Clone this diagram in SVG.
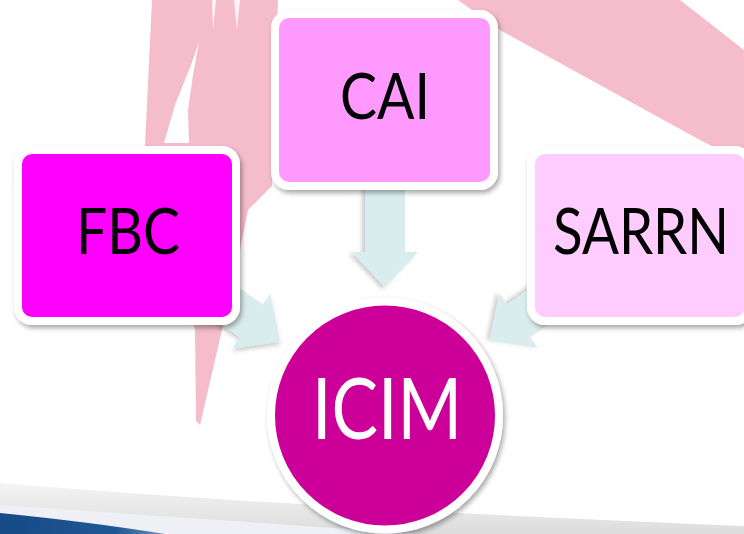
<svg xmlns="http://www.w3.org/2000/svg" width="744" height="534" viewBox="0 0 744 534">
<defs>
<style>
.lbl{font-family:Lato,"Open Sans",sans-serif;fill:#000;text-anchor:middle}
.box{stroke:#fff;stroke-width:8}
.arrow{fill:#D9ECEE}
</style>
<filter id="sh" x="-20%" y="-20%" width="140%" height="140%">
<feDropShadow dx="2" dy="3" stdDeviation="2.5" flood-color="#000" flood-opacity="0.35"/>
</filter>
<filter id="ash" x="-20%" y="-20%" width="140%" height="140%">
<feDropShadow dx="2" dy="3" stdDeviation="2" flood-color="#000" flood-opacity="0.2"/>
</filter>
<linearGradient id="gray" x1="0" y1="0" x2="0" y2="1">
<stop offset="0" stop-color="#f4f4f4"/>
<stop offset="1" stop-color="#dcdcdc"/>
</linearGradient>
<linearGradient id="blue" x1="0" y1="0" x2="1" y2="0">
<stop offset="0" stop-color="#174a86"/>
<stop offset="0.7" stop-color="#1f5795"/>
<stop offset="1" stop-color="#6d8fb8"/>
</linearGradient>
</defs>
<rect width="744" height="534" fill="#fff"/>
<g id="background">
<path d="M152,0 L278,0 L272,186 L248,210 L236,270 L222,330 L200,425 L196,421 L195,330 L145,145 Z" fill="#F5BCCB"/>
<path d="M199,42 L193,75 L188,110 L189,143 L164,143 L175,105 L191,65 Z" fill="#fff"/>
<path d="M212,0 L216,0 L213,30 Z" fill="#fff" opacity="0.8"/>
<path d="M234,0 L240,0 L237,30 Z" fill="#fff" opacity="0.8"/>
<path d="M458,0 L680,0 L744,50 L744,162 L700,140 L600,85 L500,30 Z" fill="#F5BCCB"/>
<path d="M0,483 Q300,508 744,526 L744,534 L0,534 Z" fill="url(#gray)"/>
<path d="M0,505 Q220,520 420,534 L0,534 Z" fill="#eef0f5"/>
<path d="M0,513 Q90,522 165,534 L0,534 Z" fill="url(#blue)"/>
</g>
<g id="connectors">
<polygon class="arrow" filter="url(#ash)" transform="translate(385,287) rotate(90)" points="0,0 -35,33 -35,20 -110,20 -110,-20 -35,-20 -35,-33"/>
<polygon class="arrow" filter="url(#ash)" transform="translate(280,341) rotate(35)" points="0,0 -35,33 -35,20 -110,20 -110,-20 -35,-20 -35,-33"/>
<polygon class="arrow" filter="url(#ash)" transform="translate(490,341) rotate(145)" points="0,0 -35,33 -35,20 -110,20 -110,-20 -35,-20 -35,-33"/>
</g>
<g id="node-fbc">
<rect class="box" filter="url(#sh)" x="18" y="150" width="218" height="171" rx="14" fill="#FF00FF"/>
<text class="lbl" x="128" y="254" font-size="64" textLength="104" lengthAdjust="spacingAndGlyphs">FBC</text>
</g>
<g id="node-cai">
<rect class="box" filter="url(#sh)" x="275" y="14" width="219" height="172" rx="14" fill="#FF99FF"/>
<text class="lbl" x="385" y="119" font-size="64" textLength="90" lengthAdjust="spacingAndGlyphs">CAI</text>
</g>
<g id="node-sarrn">
<rect class="box" filter="url(#sh)" x="531" y="150" width="218" height="171" rx="14" fill="#FFCCFF"/>
<text class="lbl" x="641" y="254" font-size="64" textLength="176" lengthAdjust="spacingAndGlyphs">SARRN</text>
</g>
<g id="node-icim">
<circle class="box" filter="url(#sh)" cx="385" cy="415.5" r="114" fill="#CC0099"/>
<text class="lbl" x="387" y="439" font-size="85" textLength="150" lengthAdjust="spacingAndGlyphs" style="fill:#fff">ICIM</text>
</g>
</svg>
